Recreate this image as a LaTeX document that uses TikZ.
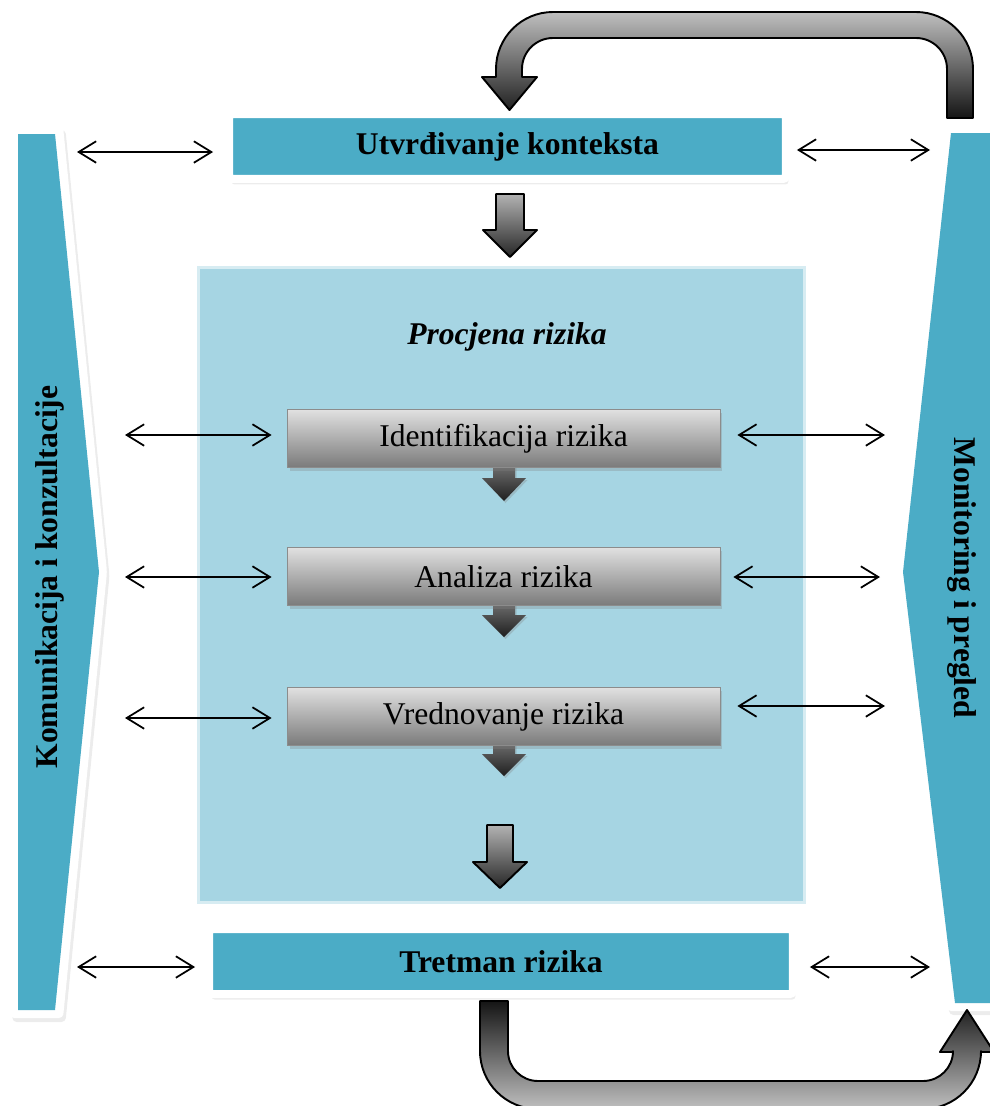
\documentclass[tikz,border=0pt]{standalone}
\usepackage{fontspec}
\setmainfont{Liberation Serif}
\usepackage{tikz}
\usetikzlibrary{arrows.meta}
\usetikzlibrary{shadows}
\definecolor{barblue}{HTML}{4BACC6}
\definecolor{panelblue}{HTML}{A6D5E3}
\newcommand{\diagfont}{\fontsize{18}{22}\selectfont}
\tikzset{
  framebox/.style={draw=white, line width=0.16cm, rounded corners=0.06cm, fill=barblue, minimum height=1.3cm, inner sep=0pt, font=\diagfont\bfseries, drop shadow={opacity=0.15, shadow xshift=0.05cm, shadow yshift=-0.11cm}},
  stepbox/.style={draw=black!45, line width=0.5pt, top color=black!12, bottom color=black!52, minimum width=8.66cm, minimum height=1.16cm, inner sep=0pt, font=\diagfont, drop shadow={opacity=0.3, shadow xshift=0.05cm, shadow yshift=-0.06cm}},
  biarrow/.style={<->, >={Straight Barb[length=3.5mm,width=4.3mm]}, line width=1pt},
  bentarrow/.style={draw=black, line width=1.1pt, line join=round},
  tiparrow/.style={top color=black!50, bottom color=black!88, drop shadow={opacity=0.3, shadow xshift=0.03cm, shadow yshift=-0.04cm}}
}

\begin{document}
\begin{tikzpicture}[x=0.02cm, y=-0.02cm]
  \useasboundingbox (0,0) rectangle (990,1106);

  % side bars
  \fill[white, rounded corners=0.08cm, drop shadow={opacity=0.15, shadow xshift=0.05cm, shadow yshift=-0.08cm}]
    (10,126) -- (63,126) -- (107,572) -- (63,1018) -- (10,1018) -- cycle;
  \fill[barblue] (18,134) -- (55,134) -- (99,572) -- (55,1010) -- (18,1010) -- cycle;
  \fill[white, rounded corners=0.08cm, drop shadow={opacity=0.15, shadow xshift=0.05cm, shadow yshift=-0.08cm}]
    (943,125) -- (1000,125) -- (1000,1011) -- (947,1011) -- (895,572) -- cycle;
  \fill[barblue] (951,133) -- (1000,133) -- (1000,1003) -- (955,1003) -- (903,572) -- cycle;
  \node[rotate=90, font=\diagfont\bfseries] (komlabel) at (50,577) {Komunikacija i konzultacije};
  \node[rotate=-90, font=\diagfont\bfseries] (monlabel) at (962,578) {Monitoring i pregled};

  % assessment panel
  \node[fill=panelblue, draw=panelblue!45!white, line width=0.06cm, minimum width=12.14cm, minimum height=12.72cm] (procjena) at (501.5,585) {};
  \node[font=\diagfont\bfseries\itshape] (title) at (507,337) {Procjena rizika};

  % small arrows under the steps
  \path[tiparrow] (493,458) -- (515,458) -- (515,478) -- (526,478) -- (504,501) -- (482,478) -- (493,478) -- cycle;
  \path[tiparrow] (493,595) -- (515,595) -- (515,615) -- (526,615) -- (504,637) -- (482,615) -- (493,615) -- cycle;
  \path[tiparrow] (493,735) -- (515,735) -- (515,754) -- (526,754) -- (504,776) -- (482,754) -- (493,754) -- cycle;

  \node[stepbox] (ident) at (503.5,438.5) {Identifikacija rizika};
  \node[stepbox] (analiza) at (503.5,576.5) {Analiza rizika};
  \node[stepbox] (vred) at (503.5,716.5) {Vrednovanje rizika};

  % main boxes
  \node[framebox, minimum width=11.14cm] (ctx) at (507.5,146.5) {Utvr\dj ivanje konteksta};
  \node[framebox, minimum width=11.68cm] (tretman) at (501,961.5) {Tretman rizika};

  % block arrows
  \path[bentarrow, top color=black!30, bottom color=black!85]
    (496,194) -- (524,194) -- (524,230) -- (537,230) -- (510,257) -- (483,230) -- (496,230) -- cycle;
  \path[bentarrow, top color=black!30, bottom color=black!85]
    (487,825) -- (513,825) -- (513,862) -- (527,862) -- (500,888) -- (473,862) -- (487,862) -- cycle;
  \path[bentarrow, top color=black!25, bottom color=black!92]
    (973,118) -- (973,69) arc[start angle=0, end angle=-90, radius=57] -- (553,12)
    arc[start angle=-90, end angle=-180, radius=57] -- (496,77) -- (482,77) -- (509.5,110)
    -- (537,77) -- (522,77) -- (522,69) arc[start angle=180, end angle=270, radius=31]
    -- (916,38) arc[start angle=270, end angle=360, radius=31] -- (947,118) -- cycle;
  \path[bentarrow, top color=black!92, bottom color=black!25]
    (480,1001) -- (480,1051) arc[start angle=180, end angle=90, radius=58] -- (923,1109)
    arc[start angle=90, end angle=0, radius=58] -- (981,1052) -- (994,1052) -- (967,1010)
    -- (940,1052) -- (953,1052) -- (953,1051) arc[start angle=0, end angle=90, radius=30]
    -- (538,1081) arc[start angle=90, end angle=180, radius=30] -- (508,1001) -- cycle;

  % two-way arrows
  \coordinate (kctx) at (77,152);  \coordinate (mctx) at (930,150);
  \coordinate (kid) at (125,435);  \coordinate (mid) at (885,435);
  \coordinate (kan) at (125,577);  \coordinate (man) at (880,577);
  \coordinate (kvr) at (125,718);  \coordinate (mvr) at (885,706);
  \coordinate (ktr) at (77,967);   \coordinate (mtr) at (930,967);
  \draw[biarrow, shorten >=0.24cm] (kctx) -- (kctx -| ctx.west);
  \draw[biarrow, shorten <=0.14cm] (mctx -| ctx.east) -- (mctx);
  \draw[biarrow, shorten >=0.3cm] (kid) -- (kid -| ident.west);
  \draw[biarrow, shorten <=0.34cm] (mid -| ident.east) -- (mid);
  \draw[biarrow, shorten >=0.3cm] (kan) -- (kan -| analiza.west);
  \draw[biarrow, shorten <=0.26cm] (man -| analiza.east) -- (man);
  \draw[biarrow, shorten >=0.3cm] (kvr) -- (kvr -| vred.west);
  \draw[biarrow, shorten <=0.34cm] (mvr -| vred.east) -- (mvr);
  \draw[biarrow, shorten >=0.2cm] (ktr) -- (ktr -| tretman.west);
  \draw[biarrow, shorten <=0.26cm] (mtr -| tretman.east) -- (mtr);
\end{tikzpicture}
\end{document}
